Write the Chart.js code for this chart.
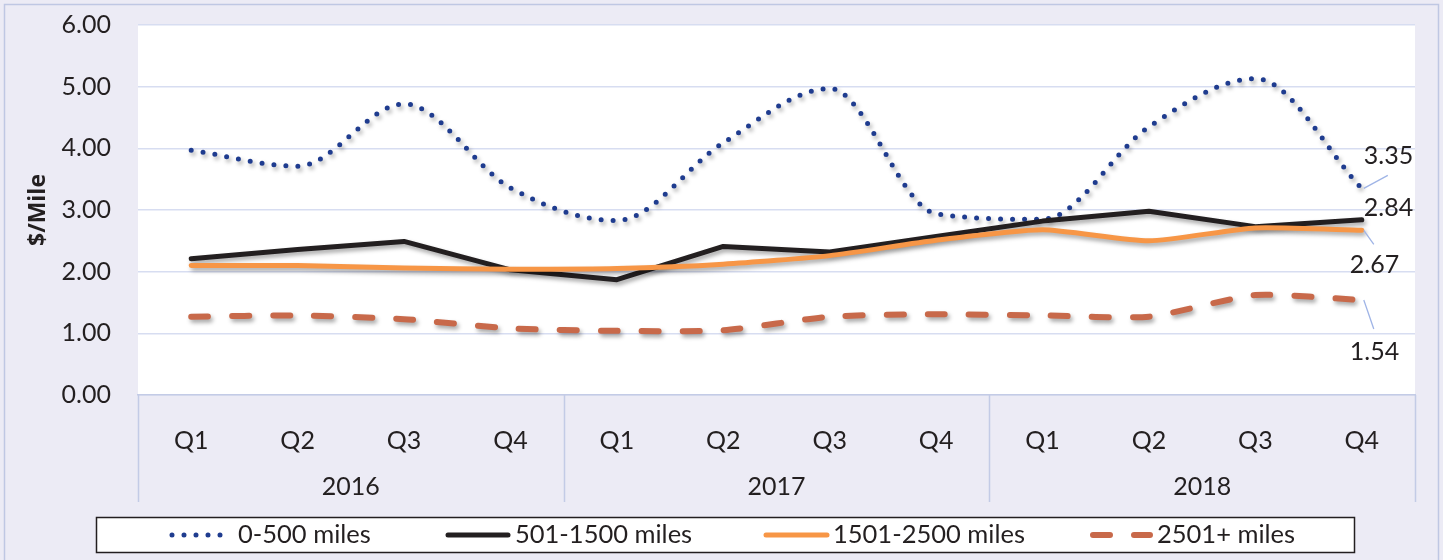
<!DOCTYPE html>
<html>
<head>
<meta charset="utf-8">
<script src="https://cdn.jsdelivr.net/npm/chart.js@4/dist/chart.umd.min.js"></script>
<style>
html,body{margin:0;padding:0;background:#ecebf5;}
#wrap{width:1443px;height:560px;position:relative;}
</style>
</head>
<body>
<div id="wrap"><canvas id="c" width="1443" height="560"></canvas></div>
<script>
const quarters = ['Q1','Q2','Q3','Q4','Q1','Q2','Q3','Q4','Q1','Q2','Q3','Q4'];
const years = ['2016','2017','2018'];
const seriesNames = ['0-500 miles','501-1500 miles','1501-2500 miles','2501+ miles'];
const miles0to500 = [3.97, 3.71, 4.72, 3.36, 2.83, 4.09, 4.97, 2.94, 2.85, 4.35, 5.13, 3.35];
const miles501to1500 = [2.21, 2.36, 2.49, 2.03, 1.87, 2.41, 2.32, 2.57, 2.82, 2.98, 2.73, 2.84];
const miles1501to2500 = [2.10, 2.10, 2.06, 2.04, 2.05, 2.12, 2.26, 2.51, 2.68, 2.50, 2.71, 2.67];
const miles2501plus = [1.27, 1.29, 1.23, 1.08, 1.04, 1.05, 1.27, 1.31, 1.29, 1.27, 1.62, 1.54];
const yMin = 0, yMax = 6, yStep = 1;

const FONT = 'Lato, "Open Sans", sans-serif';
const TXT = '#231f20';

const styles = [
  {color:'#1f3c8f', width:5, dash:[0,12], tension:0.25, mode:'monotone'},
  {color:'#231f20', width:5, dash:[], tension:0, mode:'default'},
  {color:'#f79646', width:5, dash:[], tension:0.2, mode:'default'},
  {color:'#c8694a', width:6, dash:[17,24], tension:0.2, mode:'default'}
];
const seriesData = [miles0to500, miles501to1500, miles1501to2500, miles2501plus];

const lastLabelOffsets = [
  {tx:2, ty:-32, lead:[2,0,26,-13]},
  {tx:2, ty:-12, lead:null},
  {tx:-12, ty:35, lead:[2,0,12,14]},
  {tx:-12, ty:52, lead:[2,0,12,29]}
];

const bgPlugin = {
  id:'bg',
  beforeDraw(chart){
    const {ctx, chartArea:a} = chart;
    ctx.save();
    ctx.fillStyle = '#ecebf5';
    ctx.fillRect(0,0,chart.width,chart.height);
    ctx.strokeStyle = '#bfc7e3';
    ctx.lineWidth = 1.5;
    ctx.strokeRect(4.5,4.5,1434,600);
    ctx.fillStyle = '#ffffff';
    ctx.fillRect(a.left, a.top, a.right-a.left, a.bottom-a.top);
    ctx.restore();
  }
};

const shadowPlugin = {
  id:'shadow',
  beforeDatasetDraw(chart){
    const ctx = chart.ctx;
    ctx.save();
    ctx.shadowColor = 'rgba(0,0,0,0.35)';
    ctx.shadowBlur = 4;
    ctx.shadowOffsetX = 2;
    ctx.shadowOffsetY = 3;
  },
  afterDatasetDraw(chart){
    chart.ctx.restore();
  }
};

const axisPlugin = {
  id:'axisGroups',
  afterDraw(chart){
    const {ctx, chartArea:a} = chart;
    const x = chart.scales.x;
    const n = quarters.length, per = n/years.length;
    const bounds = [a.left];
    for(let g=1; g<years.length; g++){
      bounds.push((x.getPixelForValue(g*per-1)+x.getPixelForValue(g*per))/2);
    }
    bounds.push(a.right);
    ctx.save();
    ctx.strokeStyle = '#c3cbe6';
    ctx.lineWidth = 1.5;
    bounds.forEach(b=>{
      const bx = Math.round(b)+0.5;
      ctx.beginPath(); ctx.moveTo(bx, a.bottom); ctx.lineTo(bx, x.bottom); ctx.stroke();
    });
    ctx.fillStyle = TXT;
    ctx.font = '25px ' + FONT;
    ctx.textAlign = 'center';
    ctx.textBaseline = 'middle';
    years.forEach((yr,i)=>{
      ctx.fillText(yr, (bounds[i]+bounds[i+1])/2, 487);
    });
    ctx.restore();
  }
};

const labelPlugin = {
  id:'lastLabels',
  afterDatasetsDraw(chart){
    const ctx = chart.ctx;
    ctx.save();
    ctx.font = '25px ' + FONT;
    ctx.fillStyle = TXT;
    ctx.textAlign = 'left';
    ctx.textBaseline = 'middle';
    chart.data.datasets.forEach((ds,i)=>{
      const meta = chart.getDatasetMeta(i);
      const pt = meta.data[meta.data.length-1];
      const v = ds.data[ds.data.length-1];
      const o = lastLabelOffsets[i];
      if(o.lead){
        ctx.strokeStyle = '#9fb4e6';
        ctx.lineWidth = 1.3;
        ctx.beginPath();
        ctx.moveTo(pt.x+o.lead[0], pt.y+o.lead[1]);
        ctx.lineTo(pt.x+o.lead[2], pt.y+o.lead[3]);
        ctx.stroke();
      }
      ctx.fillText(v.toFixed(2), pt.x+o.tx, pt.y+o.ty);
    });
    ctx.restore();
  }
};

const legendPlugin = {
  id:'boxLegend',
  afterDraw(chart){
    const ctx = chart.ctx;
    const box = {x:96.5, y:517.5, w:1258, h:35};
    ctx.save();
    ctx.fillStyle = '#ffffff';
    ctx.fillRect(box.x, box.y, box.w, box.h);
    ctx.strokeStyle = '#231f20';
    ctx.lineWidth = 1.5;
    ctx.strokeRect(box.x, box.y, box.w, box.h);
    const cy = 535;
    const items = [
      {sx:172, ex:224, tx:238},
      {sx:448, ex:508, tx:515},
      {sx:766, ex:827, tx:833},
      {sx:1093, ex:1150, tx:1157}
    ];
    ctx.font = '25.5px ' + FONT;
    ctx.textBaseline = 'middle';
    ctx.textAlign = 'left';
    chart.data.datasets.forEach((ds,i)=>{
      const it = items[i];
      ctx.strokeStyle = ds.borderColor;
      ctx.lineWidth = ds.borderWidth;
      ctx.lineCap = 'round';
      ctx.setLineDash(ds.borderDash || []);
      ctx.beginPath(); ctx.moveTo(it.sx, cy); ctx.lineTo(it.ex, cy); ctx.stroke();
      ctx.setLineDash([]);
      ctx.fillStyle = TXT;
      ctx.fillText(ds.label, it.tx, cy);
    });
    ctx.restore();
  }
};

const datasets = seriesData.map((d,i)=>({
  label: seriesNames[i],
  data: d,
  borderColor: styles[i].color,
  backgroundColor: styles[i].color,
  borderWidth: styles[i].width,
  borderDash: styles[i].dash,
  borderCapStyle: 'round',
  borderJoinStyle: 'round',
  tension: styles[i].tension,
  cubicInterpolationMode: styles[i].mode,
  pointRadius: 0,
  pointHoverRadius: 0,
  fill: false,
  order: 4-i
}));

new Chart(document.getElementById('c'), {
  type:'line',
  data:{ labels: quarters, datasets },
  options:{
    responsive:false,
    devicePixelRatio:1,
    animation:false,
    events:[],
    layout:{ padding:{ left:10, right:28, top:25, bottom:58 } },
    plugins:{ legend:{display:false}, tooltip:{enabled:false}, title:{display:false} },
    scales:{
      x:{
        type:'category',
        offset:true,
        grid:{ display:false },
        border:{ display:true, color:'#c3cbe6', width:1.5 },
        ticks:{ color:TXT, font:{family:FONT, size:25}, padding:23, maxRotation:0, autoSkip:false },
        afterFit(s){ s.height = 107; }
      },
      y:{
        min:yMin, max:yMax,
        grid:{ color:'#d7ddf1', lineWidth:1.5, drawTicks:false },
        border:{ display:false },
        ticks:{ stepSize:yStep, color:TXT, font:{family:FONT, size:25}, padding:27,
          callback:v=>Number(v).toFixed(2) },
        title:{ display:true, text:'$/Mile', color:TXT, font:{family:'"Open Sans", sans-serif', size:23, weight:'bold'}, padding:{top:15,bottom:0} },
        afterFit(s){ s.width = 128; s.paddingTop = 0; s.paddingBottom = 0; }
      }
    }
  },
  plugins:[bgPlugin, shadowPlugin, axisPlugin, labelPlugin, legendPlugin]
});
</script>
</body>
</html>
